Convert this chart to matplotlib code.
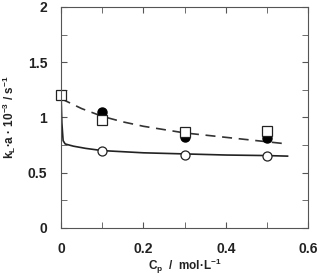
import matplotlib
matplotlib.use("Agg")
import matplotlib.pyplot as plt
from matplotlib.ticker import MultipleLocator

plt.rcParams['font.family'] = ['Liberation Sans', 'DejaVu Sans']
plt.rcParams['mathtext.fontset'] = 'custom'
plt.rcParams['mathtext.rm'] = 'Liberation Sans:bold'
plt.rcParams['mathtext.bf'] = 'Liberation Sans:bold'
plt.rcParams['mathtext.it'] = 'Liberation Sans:bold'

# measured points
cp = [0.1, 0.3, 0.5]
squares_x = [0.0, 0.1, 0.3, 0.5]
squares_y = [1.20, 0.98, 0.87, 0.88]
filled_y = [1.05, 0.82, 0.81]
open_x = [0.0, 0.1, 0.3, 0.5]
open_y = [1.20, 0.70, 0.66, 0.65]

# fitted curves
dash_x = [0.0, 0.05, 0.1, 0.15, 0.2, 0.25, 0.3, 0.35, 0.4, 0.45, 0.5, 0.55]
dash_y = [1.17, 1.08, 1.01, 0.96, 0.92, 0.89, 0.86, 0.84, 0.82, 0.80, 0.78, 0.76]
solid_x = [0.0, 0.002, 0.005, 0.01, 0.03, 0.06, 0.1, 0.15, 0.2, 0.3, 0.4, 0.5, 0.55]
solid_y = [1.20, 0.95, 0.79, 0.76, 0.74, 0.72, 0.70, 0.69, 0.68, 0.67, 0.66, 0.655, 0.65]

fig = plt.figure(figsize=(3.18, 2.76), dpi=100)
ax = fig.add_axes([0.192, 0.174, 0.777, 0.801])

ax.plot(dash_x, dash_y, color='#333333', lw=1.2, ls=(0, (6, 4)))
ax.plot(solid_x, solid_y, color='#222222', lw=1.2)
ax.plot(open_x, open_y, 'o', ms=6.5, mfc='white', mec='#222222', mew=0.9, clip_on=False)
ax.plot(cp, filled_y, 'o', ms=6.5, color='black', clip_on=False)
ax.plot(squares_x, squares_y, 's', ms=7, mfc='white', mec='#222222', mew=0.9, clip_on=False)

ax.set_xlim(0, 0.6)
ax.set_ylim(0, 2)
ax.xaxis.set_minor_locator(MultipleLocator(0.1))
ax.yaxis.set_minor_locator(MultipleLocator(0.25))
ax.set_xticks([0, 0.2, 0.4, 0.6])
ax.set_xticklabels(['0', '0.2', '0.4', '0.6'])
ax.set_yticks([0, 0.5, 1, 1.5, 2])
ax.set_yticklabels(['0', '0.5', '1', '1.5', '2'])
ax.tick_params(which='both', direction='in', top=True, right=True,
               color='#555555', labelsize=10, labelcolor='#222222')
ax.tick_params(which='both', length=4)
ax.tick_params(axis='x', pad=10)
ax.tick_params(axis='y', pad=10)
for lab in ax.get_xticklabels() + ax.get_yticklabels():
    lab.set_fontweight('bold')
for s in ax.spines.values():
    s.set_color('#555555')
    s.set_linewidth(0.8)

ax.set_xlabel(r'C$_\mathrm{p}$  /  mol·L$^{-1}$', fontsize=8.5, fontweight='bold',
              color='#222222', labelpad=1)
ax.set_ylabel(r'k$_\mathrm{L}$·a · 10$^{-3}$ / s$^{-1}$', fontsize=8.5, fontweight='bold',
              color='#222222', labelpad=7)

fig.savefig("out.png", dpi=100)
